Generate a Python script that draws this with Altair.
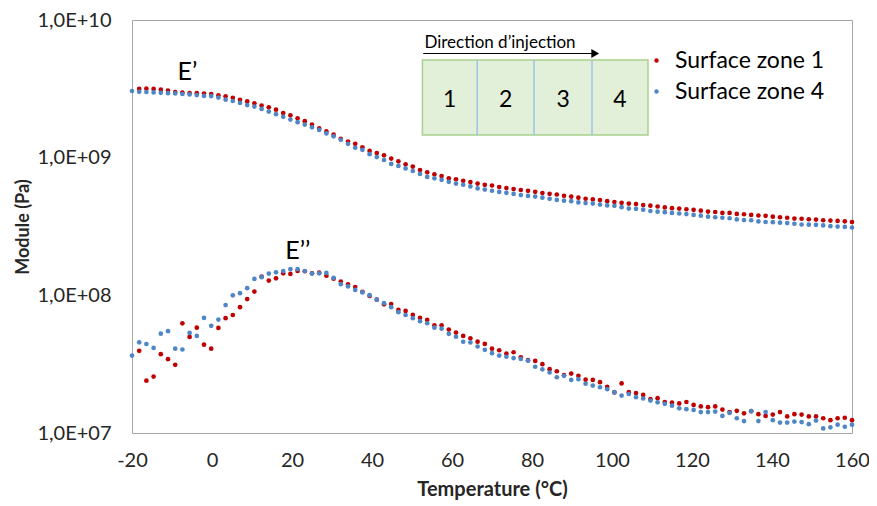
import altair as alt
import pandas as pd

# ---------------- data ----------------
TEMP = [-20.0, -18.2, -16.4, -14.6, -12.8, -11.0, -9.2, -7.4, -5.6, -3.8,
        -2.0, -0.2, 1.6, 3.4, 5.2, 7.0, 8.8, 10.6, 12.4, 14.2,
        16.0, 17.8, 19.6, 21.4, 23.2, 25.0, 26.8, 28.6, 30.4, 32.2,
        34.0, 35.8, 37.6, 39.4, 41.2, 43.0, 44.8, 46.6, 48.4, 50.2,
        52.0, 53.8, 55.6, 57.4, 59.2, 61.0, 62.8, 64.6, 66.4, 68.2,
        70.0, 71.8, 73.6, 75.4, 77.2, 79.0, 80.8, 82.6, 84.4, 86.2,
        88.0, 89.8, 91.6, 93.4, 95.2, 97.0, 98.8, 100.6, 102.4, 104.2,
        106.0, 107.8, 109.6, 111.4, 113.2, 115.0, 116.8, 118.6, 120.4, 122.2,
        124.0, 125.8, 127.6, 129.4, 131.2, 133.0, 134.8, 136.6, 138.4, 140.2,
        142.0, 143.8, 145.6, 147.4, 149.2, 151.0, 152.8, 154.6, 156.4, 158.2,
        160.0]

# E' (GPa) - Surface zone 1
E1_STORAGE = [None, 3.16, 3.17, 3.16, 3.12, 3.07, 3.00, 2.97, 2.95, 2.94,
              2.92, 2.90, 2.84, 2.79, 2.72, 2.63, 2.56, 2.48, 2.39, 2.32,
              2.23, 2.11, 2.03, 1.93, 1.84, 1.74, 1.63, 1.55, 1.47, 1.37,
              1.31, 1.26, 1.19, 1.12, 1.08, 1.04, 0.985, 0.940, 0.895, 0.861,
              0.813, 0.783, 0.757, 0.736, 0.708, 0.697, 0.680, 0.665, 0.648, 0.635,
              0.628, 0.612, 0.601, 0.591, 0.582, 0.574, 0.565, 0.553, 0.546, 0.540,
              0.529, 0.522, 0.512, 0.503, 0.497, 0.492, 0.483, 0.476, 0.470, 0.464,
              0.460, 0.453, 0.448, 0.442, 0.435, 0.430, 0.427, 0.422, 0.418, 0.412,
              0.406, 0.403, 0.397, 0.397, 0.390, 0.388, 0.384, 0.380, 0.378, 0.373,
              0.369, 0.366, 0.361, 0.360, 0.357, 0.355, 0.351, 0.349, 0.347, 0.345,
              0.341]

# E' (GPa) - Surface zone 4
E4_STORAGE = [3.05, 3.01, 3.00, 2.98, 2.96, 2.94, 2.93, 2.90, 2.88, 2.85,
              2.81, 2.80, 2.73, 2.64, 2.58, 2.50, 2.41, 2.35, 2.26, 2.16,
              2.07, 1.98, 1.89, 1.81, 1.74, 1.66, 1.59, 1.50, 1.43, 1.35,
              1.26, 1.18, 1.14, 1.06, 1.01, 0.962, 0.900, 0.871, 0.835, 0.800,
              0.762, 0.725, 0.708, 0.690, 0.668, 0.648, 0.636, 0.618, 0.598, 0.586,
              0.575, 0.564, 0.555, 0.545, 0.535, 0.527, 0.522, 0.512, 0.502, 0.493,
              0.487, 0.483, 0.473, 0.468, 0.464, 0.456, 0.450, 0.447, 0.437, 0.427,
              0.425, 0.419, 0.410, 0.405, 0.402, 0.397, 0.393, 0.389, 0.384, 0.379,
              0.373, 0.369, 0.366, 0.363, 0.356, 0.352, 0.351, 0.344, 0.341, 0.340,
              0.337, 0.335, 0.331, 0.327, 0.326, 0.325, 0.322, 0.318, 0.316, 0.314,
              0.311]

# E'' (MPa) - Surface zone 1
E1_LOSS = [None, 39.5, 24.0, 25.7, 37.4, 34.4, 31.3, 62.6, 49.9, 58.2,
           43.8, 41.0, 58.0, 68.2, 72.0, 82.0, 94.0, 106.4, 136.8, 128.0,
           133.0, 144.6, 143.0, 150.4, 149.6, 144.6, 146.2, 139.0, 132.0, 126.0,
           120.0, 115.0, 106.0, 99.0, 93.0, 86.0, 86.5, 78.3, 77.1, 72.1,
           68.5, 66.3, 60.6, 60.6, 56.4, 53.6, 50.7, 48.8, 46.1, 44.4,
           41.0, 39.9, 37.7, 38.6, 35.5, 33.8, 33.4, 31.6, 29.1, 28.1,
           26.3, 27.0, 26.0, 24.4, 24.3, 23.4, 21.6, 19.7, 22.9, 19.8,
           19.5, 18.9, 17.6, 17.9, 16.8, 16.6, 16.4, 16.8, 16.0, 15.6,
           15.4, 15.6, 14.8, 14.2, 14.5, 13.9, 14.4, 13.7, 13.3, 13.6,
           14.2, 13.2, 13.7, 13.6, 13.2, 13.2, 12.8, 12.4, 12.8, 12.9,
           12.4]

# E'' (MPa) - Surface zone 4
E4_LOSS = [36.5, 45.6, 44.3, 41.5, 52.7, 54.9, 41.0, 40.4, 53.3, 50.7,
           68.5, 60.0, 66.7, 85.0, 100.0, 103.6, 112.7, 131.6, 135.5, 144.0,
           147.0, 150.0, 154.8, 154.8, 150.0, 143.9, 144.5, 145.5, 134.0, 120.5,
           116.0, 109.5, 105.0, 100.2, 93.0, 87.7, 82.0, 75.4, 72.0, 68.2,
           64.9, 62.7, 58.2, 57.3, 52.5, 50.0, 46.0, 45.5, 42.5, 40.2,
           38.0, 36.5, 35.8, 35.0, 34.5, 33.5, 30.3, 29.0, 27.5, 25.4,
           26.0, 24.3, 24.6, 22.8, 22.1, 21.5, 20.8, 19.8, 18.7, 19.2,
           18.2, 17.8, 17.2, 16.7, 16.3, 15.8, 15.1, 14.9, 14.7, 14.2,
           14.2, 14.3, 13.3, 14.0, 12.8, 12.2, 14.4, 12.2, 14.2, 12.4,
           11.9, 11.9, 12.1, 12.0, 11.6, 12.3, 10.8, 11.0, 11.5, 11.1,
           11.5]

ZONES = ["Surface zone 1", "Surface zone 4"]
COLORS = ["#C00000", "#4F86C6"]

X_TICKS = [-20, 0, 20, 40, 60, 80, 100, 120, 140, 160]
Y_TICKS = [1e7, 1e8, 1e9, 1e10]

# inset annotation (data coordinates)
BOX_T = [52.6, 109.0]
BOX_MOD = [5.12e9, 1.46e9]
DIVIDER_T = [66.3, 80.5, 95.0]
ZONE_LABELS = ["1", "2", "3", "4"]
ZONE_LABEL_T = [59.4, 73.4, 87.8, 102.0]
ZONE_LABEL_MOD = 2.34e9
ARROW_T = [52.8, 95.2]
ARROW_HEAD_T = 95.8
ARROW_MOD = 5.71e9
DIR_TEXT = "Direction d\u2019injection"
DIR_T = 53.1
DIR_MOD = 6.26e9
CURVE_LABELS = ["E\u2019", "E\u2019\u2019"]
CURVE_LABEL_T = [-8.6, 18.3]
CURVE_LABEL_MOD = [3.66e9, 1.84e8]

# ---------------- build tables ----------------
rows = []
for i, t in enumerate(TEMP):
    for zone, sto, los in ((ZONES[0], E1_STORAGE, E1_LOSS), (ZONES[1], E4_STORAGE, E4_LOSS)):
        if sto[i] is not None:
            rows.append({"T": t, "mod": sto[i] * 1e9, "zone": zone, "kind": "E'"})
        if los[i] is not None:
            rows.append({"T": t, "mod": los[i] * 1e6, "zone": zone, "kind": "E''"})
df = pd.DataFrame(rows)

FONT = "Lato"
TXT = "#262626"

xs = alt.Scale(domain=[-20, 160], nice=False, zero=False, padding=0)
ys = alt.Scale(type="log", domain=[1e7, 1e10], nice=False, padding=0)

xaxis = alt.Axis(values=X_TICKS, title="Temperature (°C)", grid=False, ticks=False, domain=False,
                 labelFlush=False,
                 labelExpr="datum.value < 0 ? '-' + abs(datum.value) : '' + datum.value",
                 labelFont=FONT, labelFontSize=20, labelColor=TXT, labelPadding=17,
                 titleFont=FONT, titleFontSize=20, titleFontWeight="bold", titleColor=TXT,
                 titlePadding=9)
yaxis = alt.Axis(values=Y_TICKS, title="Module (Pa)", grid=False, ticks=False, domain=False,
                 labelFlush=False,
                 labelExpr="'1,0E+' + (round(log(datum.value)/LN10) < 10 ? '0' : '') + round(log(datum.value)/LN10)",
                 labelFont=FONT, labelFontSize=20, labelColor=TXT, labelPadding=21,
                 titleFont=FONT, titleFontSize=18, titleFontWeight="bold", titleColor=TXT,
                 titlePadding=4)

X = alt.X("T:Q", scale=xs, axis=xaxis)
Y = alt.Y("mod:Q", scale=ys, axis=yaxis)

box = alt.Chart(pd.DataFrame({"T": [BOX_T[0]], "T2": [BOX_T[1]],
                              "mod": [BOX_MOD[0]], "mod2": [BOX_MOD[1]]})).mark_rect(
    fill="#E2F0D9", stroke="#A9D18E", strokeWidth=1.5).encode(x=X, x2="T2:Q", y=Y, y2="mod2:Q")

dividers = alt.Chart(pd.DataFrame({"T": DIVIDER_T, "mod": [BOX_MOD[0]] * 3,
                                   "mod2": [BOX_MOD[1]] * 3})).mark_rule(
    color="#9DC3E6", strokeWidth=1.5).encode(x=X, y=Y, y2="mod2:Q")

numbers = alt.Chart(pd.DataFrame({"T": ZONE_LABEL_T, "mod": [ZONE_LABEL_MOD] * 4,
                                  "label": ZONE_LABELS})).mark_text(
    font=FONT, fontSize=23, color="black", align="center", baseline="alphabetic").encode(
    x=X, y=Y, text="label:N")

arrow = alt.Chart(pd.DataFrame({"T": [ARROW_T[0]], "T2": [ARROW_T[1]], "mod": [ARROW_MOD]})).mark_rule(
    color="black", strokeWidth=1.2).encode(x=X, x2="T2:Q", y=Y)

arrowhead = alt.Chart(pd.DataFrame({"T": [ARROW_HEAD_T], "mod": [ARROW_MOD]})).mark_point(
    shape="triangle-right", filled=True, size=80, color="black", opacity=1).encode(x=X, y=Y)

dirtext = alt.Chart(pd.DataFrame({"T": [DIR_T], "mod": [DIR_MOD], "label": [DIR_TEXT]})).mark_text(
    font=FONT, fontSize=17, color="black", align="left", baseline="alphabetic").encode(
    x=X, y=Y, text="label:N")

curve_labels = alt.Chart(pd.DataFrame({"T": CURVE_LABEL_T, "mod": CURVE_LABEL_MOD,
                                       "label": CURVE_LABELS})).mark_text(
    font=FONT, fontSize=25, color="black", align="left", baseline="alphabetic").encode(
    x=X, y=Y, text="label:N")

points = alt.Chart(df).mark_circle(size=22, opacity=1).encode(
    x=X, y=Y,
    color=alt.Color("zone:N", scale=alt.Scale(domain=ZONES, range=COLORS),
                    legend=alt.Legend(orient="none", legendX=513, legendY=29, title=None,
                                      symbolType="circle", symbolSize=20, symbolStrokeWidth=0,
                                      labelFont=FONT, labelFontSize=23, labelColor="black",
                                      labelOffset=7, rowPadding=7, padding=0)),
)

chart = alt.layer(box, dividers, numbers, arrow, arrowhead, dirtext, curve_labels, points).properties(
    width=720, height=413,
    padding={"left": 124, "top": 12, "right": 17, "bottom": 73},
    autosize=alt.AutoSizeParams(type="none"),
    background="white",
).configure_view(stroke="#A6A6A6", strokeWidth=1)

chart.save("out.html", embed_options={"renderer": "svg", "actions": False})
